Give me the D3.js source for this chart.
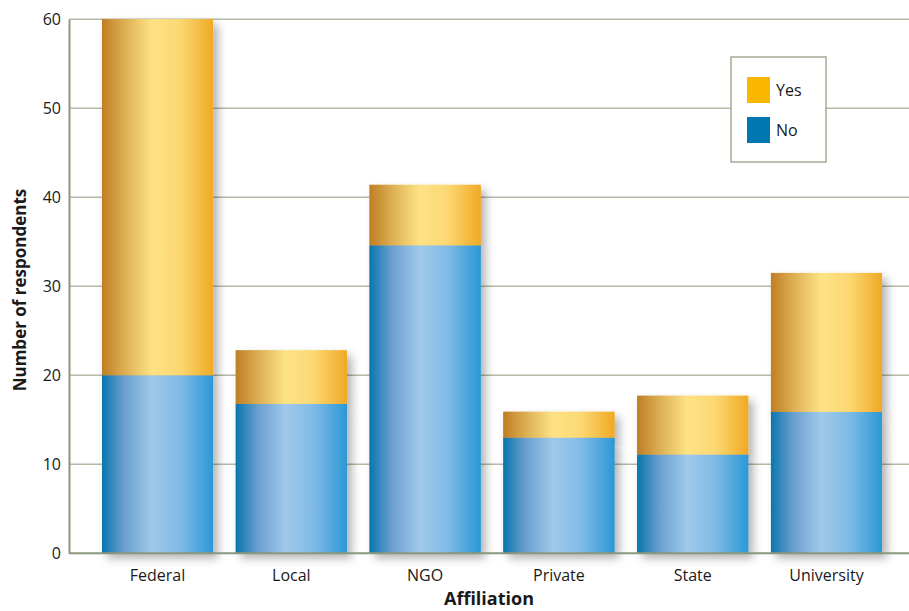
<!DOCTYPE html>
<html>
<head>
<meta charset="utf-8">
<script src="https://cdn.jsdelivr.net/npm/d3@7"></script>
<style>
  body { margin: 0; background: #fff; }
  text { font-family: "Open Sans", "Noto Sans", sans-serif; fill: #1a1a1a; }
</style>
</head>
<body>
<div id="chart"></div>
<script>
const width = 909;
const height = 611;

// data
const affiliations = ["Federal", "Local", "NGO", "Private", "State", "University"];
const noValues  = [20, 16.8, 34.6, 13.0, 11.1, 15.9];
const yesValues = [40, 6.0, 6.8, 2.9, 6.6, 15.6];
const yTicks = [0, 10, 20, 30, 40, 50, 60];
const seriesNames = ["Yes", "No"];

const rows = affiliations.map((a, i) => ({ name: a, No: noValues[i], Yes: yesValues[i] }));

const svg = d3.select("#chart").append("svg")
  .attr("width", width)
  .attr("height", height);

const defs = svg.append("defs");

// gradients across each bar
const gold = defs.append("linearGradient").attr("id", "gold").attr("x1", 0).attr("x2", 1).attr("y1", 0).attr("y2", 0);
[["0%", "#c07e24"], ["20%", "#dcae52"], ["45%", "#fde385"], ["70%", "#fcd873"], ["100%", "#f0a924"]]
  .forEach(s => gold.append("stop").attr("offset", s[0]).attr("stop-color", s[1]));

const blue = defs.append("linearGradient").attr("id", "blue").attr("x1", 0).attr("x2", 1).attr("y1", 0).attr("y2", 0);
[["0%", "#0a76ae"], ["20%", "#6b9fcf"], ["45%", "#9fc9ea"], ["70%", "#80bbe6"], ["100%", "#2b98d6"]]
  .forEach(s => blue.append("stop").attr("offset", s[0]).attr("stop-color", s[1]));

const shadow = defs.append("filter").attr("id", "shadow")
  .attr("x", "-20%").attr("y", "-20%").attr("width", "150%").attr("height", "150%");
shadow.append("feDropShadow")
  .attr("dx", 5).attr("dy", 5).attr("stdDeviation", 5)
  .attr("flood-color", "#000").attr("flood-opacity", 0.3);

// scales
const xScale = d3.scaleBand()
  .domain(affiliations)
  .range([102, 882])
  .paddingInner(0.17)
  .paddingOuter(0);

const yScale = d3.scaleLinear()
  .domain([0, 60])
  .range([553.3, 19.3]);

const colorScale = d3.scaleOrdinal()
  .domain(seriesNames)
  .range(["url(#gold)", "url(#blue)"]);

// grid
svg.append("g")
  .selectAll("line")
  .data(yTicks.filter(d => d > 0))
  .join("line")
  .attr("x1", 69).attr("x2", width)
  .attr("y1", d => yScale(d)).attr("y2", d => yScale(d))
  .attr("stroke", "#b3baa6")
  .attr("stroke-width", 1.5);

// y axis
const yAxis = svg.append("g")
  .attr("transform", "translate(69,0)")
  .call(d3.axisLeft(yScale).tickValues(yTicks).tickSize(0).tickPadding(8));
yAxis.select(".domain").attr("stroke", "#8b977c").attr("stroke-width", 2);
yAxis.selectAll("text").style("font-size", "16px").attr("fill", "#1a1a1a");

// stacked bars
const stacked = d3.stack().keys(["No", "Yes"])(rows);

svg.append("g")
  .selectAll("g")
  .data(stacked)
  .join("g")
  .attr("fill", d => colorScale(d.key))
  .selectAll("rect")
  .data(d => d)
  .join("rect")
  .attr("x", d => xScale(d.data.name))
  .attr("width", xScale.bandwidth())
  .attr("y", d => yScale(d[1]))
  .attr("height", d => yScale(d[0]) - yScale(d[1]))
  .attr("filter", "url(#shadow)");

// redraw flat fills on top so the shadow of one segment does not sit over the other
svg.append("g")
  .selectAll("g")
  .data(stacked)
  .join("g")
  .attr("fill", d => colorScale(d.key))
  .selectAll("rect")
  .data(d => d)
  .join("rect")
  .attr("x", d => xScale(d.data.name))
  .attr("width", xScale.bandwidth())
  .attr("y", d => yScale(d[1]))
  .attr("height", d => yScale(d[0]) - yScale(d[1]));

// x axis
const xAxis = svg.append("g")
  .attr("transform", `translate(0,${yScale(0)})`)
  .call(d3.axisBottom(xScale).tickSize(0).tickPadding(16));
xAxis.select(".domain").remove();
xAxis.selectAll("text").style("font-size", "16px").attr("fill", "#1a1a1a");

svg.append("line")
  .attr("x1", 69).attr("x2", width)
  .attr("y1", yScale(0)).attr("y2", yScale(0))
  .attr("stroke", "#8b977c")
  .attr("stroke-width", 2);

// axis titles
svg.append("text")
  .attr("x", 489).attr("y", 605)
  .attr("text-anchor", "middle")
  .style("font-size", "18px")
  .style("font-weight", "bold")
  .text("Affiliation");

svg.append("text")
  .attr("transform", "translate(26,290) rotate(-90)")
  .attr("text-anchor", "middle")
  .style("font-size", "17px")
  .style("font-weight", "bold")
  .text("Number of respondents");

// legend
const legend = svg.append("g").attr("transform", "translate(731,57)");
legend.append("rect")
  .attr("width", 95).attr("height", 105)
  .attr("fill", "#fff")
  .attr("stroke", "#a3ad94")
  .attr("stroke-width", 1.5);

const legendColors = d3.scaleOrdinal().domain(seriesNames).range(["#f9b700", "#0077b1"]);

const item = legend.selectAll("g")
  .data(seriesNames)
  .join("g")
  .attr("transform", (d, i) => `translate(16,${20 + i * 40})`);
item.append("rect")
  .attr("width", 23).attr("height", 26)
  .attr("fill", d => legendColors(d));
item.append("text")
  .attr("x", 29).attr("y", 13)
  .attr("dy", "0.35em")
  .style("font-size", "16px")
  .text(d => d);
</script>
</body>
</html>
